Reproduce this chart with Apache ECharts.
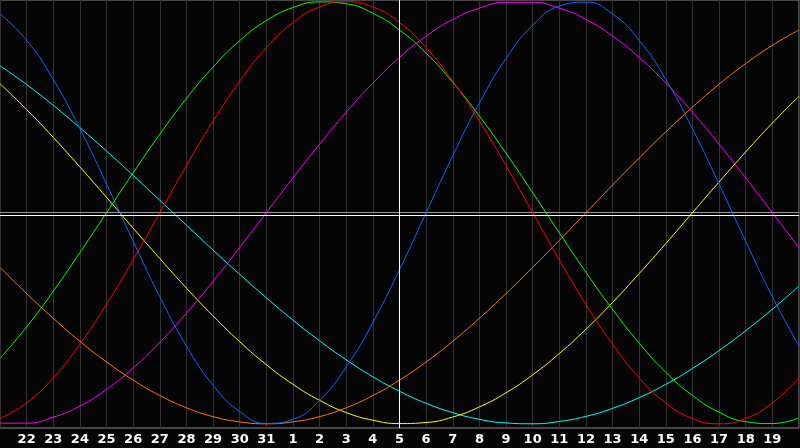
<!DOCTYPE html>
<html>
<head>
<meta charset="utf-8">
<script src="https://cdn.jsdelivr.net/npm/echarts@6/dist/echarts.min.js"></script>
<style>
html,body{margin:0;padding:0;background:#050505;}
#c{width:800px;height:448px;}
</style>
</head>
<body>
<div id="c"></div>
<script>
const days = ['21','22','23','24','25','26','27','28','29','30','31','1','2','3','4','5','6','7','8','9','10','11','12','13','14','15','16','17','18','19','20'];
const physical = [0.942,0.817,0.631,0.398,0.136,-0.136,-0.398,-0.631,-0.817,-0.942,-0.998,-0.979,-0.888,-0.731,-0.520,-0.270,0.000,0.270,0.520,0.731,0.888,0.979,0.998,0.942,0.817,0.631,0.398,0.136,-0.136,-0.398,-0.631];
const emotional = [-0.975,-0.901,-0.782,-0.623,-0.434,-0.223,0.000,0.223,0.434,0.623,0.782,0.901,0.975,1.000,0.975,0.901,0.782,0.623,0.434,0.223,0.000,-0.223,-0.434,-0.623,-0.782,-0.901,-0.975,-1.000,-0.975,-0.901,-0.782];
const intellectual = [-0.690,-0.541,-0.372,-0.189,0.000,0.189,0.372,0.541,0.690,0.815,0.910,0.972,0.999,0.990,0.945,0.866,0.756,0.618,0.458,0.282,0.095,-0.095,-0.282,-0.458,-0.618,-0.756,-0.866,-0.945,-0.990,-0.999,-0.972];
const intuitive = [-0.997,-0.997,-0.969,-0.916,-0.837,-0.736,-0.614,-0.476,-0.325,-0.165,0.000,0.165,0.325,0.476,0.614,0.736,0.837,0.916,0.969,0.997,0.997,0.969,0.916,0.837,0.736,0.614,0.476,0.325,0.165,0.000,-0.165];
const aesthetic = [0.611,0.489,0.357,0.217,0.073,-0.073,-0.217,-0.357,-0.489,-0.611,-0.720,-0.813,-0.889,-0.947,-0.983,-0.999,-0.994,-0.968,-0.920,-0.853,-0.768,-0.667,-0.552,-0.425,-0.288,-0.146,0.000,0.146,0.288,0.425,0.552];
const awareness = [-0.259,-0.383,-0.500,-0.609,-0.707,-0.793,-0.866,-0.924,-0.966,-0.991,-1.000,-0.991,-0.966,-0.924,-0.866,-0.793,-0.707,-0.609,-0.500,-0.383,-0.259,-0.131,0.000,0.131,0.259,0.383,0.500,0.609,0.707,0.793,0.866];
const spiritual = [0.697,0.607,0.509,0.403,0.292,0.177,0.059,-0.059,-0.177,-0.292,-0.403,-0.509,-0.607,-0.697,-0.777,-0.846,-0.903,-0.947,-0.979,-0.996,-1.000,-0.989,-0.965,-0.927,-0.876,-0.813,-0.738,-0.653,-0.559,-0.457,-0.348];
const todayIndex = 15;

const seriesDefs = [
  ['Spiritual', spiritual, '#00ffff'],
  ['Aesthetic', aesthetic, '#ffff00'],
  ['Awareness', awareness, '#ff7800'],
  ['Intuitive', intuitive, '#ff00ff'],
  ['Physical', physical, '#1464ff'],
  ['Intellectual', intellectual, '#00ff00'],
  ['Emotional', emotional, '#ff0000']
];

const series = seriesDefs.map(([name, data, color]) => ({
  name, type: 'line', data, smooth: true, symbol: 'none',
  lineStyle: {color, width: 1}, itemStyle: {color}, silent: true, animation: false
}));
series.push({
  type: 'line', data: [], silent: true, animation: false,
  markLine: {
    symbol: 'none', silent: true, animation: false, label: {show: false},
    lineStyle: {color: '#ffffff', width: 1, type: 'solid'},
    data: [{xAxis: todayIndex}, {yAxis: -0.006}]
  }
});

const chart = echarts.init(document.getElementById('c'));
chart.setOption({
  backgroundColor: '#050505',
  animation: false,
  grid: {left: 0, right: 1, top: 0, bottom: 20, show: true, borderColor: '#8a8a8a', borderWidth: 1, backgroundColor: '#050505'},
  xAxis: {
    type: 'category', data: days, boundaryGap: false,
    axisLine: {show: true, lineStyle: {color: '#9a9a9a', width: 1}},
    axisTick: {show: false},
    splitLine: {show: true, interval: 0, lineStyle: {color: '#333333', width: 1}},
    axisLabel: {
      color: '#ffffff', fontFamily: 'DejaVu Sans', fontWeight: 'bold', fontSize: 13, margin: 5,
      interval: (i) => i > 0 && i < days.length - 1
    }
  },
  yAxis: {
    type: 'value', min: -1.02, max: 1.008,
    axisLine: {show: false}, axisTick: {show: false}, axisLabel: {show: false}, splitLine: {show: false}
  },
  series
});
</script>
</body>
</html>
